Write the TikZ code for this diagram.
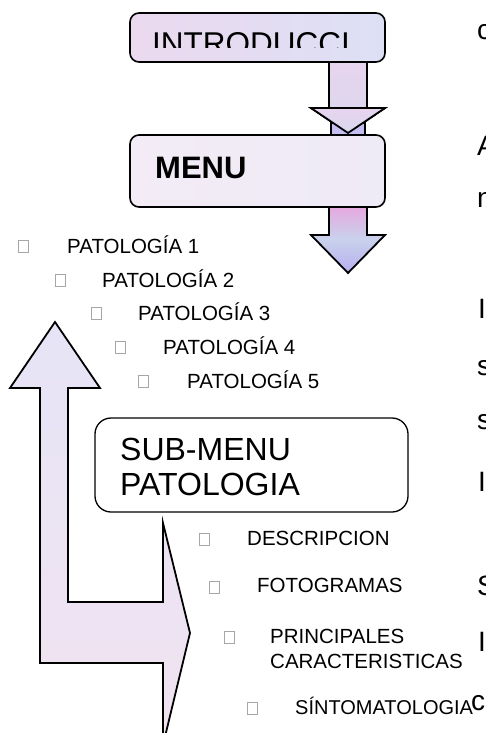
\documentclass[tikz,border=0pt]{standalone}
\usepackage{fontspec}
\setmainfont{Liberation Sans}
\definecolor{introL}{HTML}{EBD9EF}
\definecolor{introR}{HTML}{DDE0F5}
\definecolor{menuL}{HTML}{F3ECF6}
\definecolor{menuR}{HTML}{EEEAF6}
\definecolor{arrAtop}{HTML}{E8D4EE}
\definecolor{arrAbot}{HTML}{D8D8EE}
\definecolor{arrBtop}{HTML}{E7A6DE}
\definecolor{arrBmid}{HTML}{C9D2EC}
\definecolor{arrBbot}{HTML}{B7AEF0}
\definecolor{lTop}{HTML}{E6E4F6}
\definecolor{lBot}{HTML}{F1E3F0}
\begin{document}
\begin{tikzpicture}[x=1pt,y=-1pt,
  frame/.style={draw=black, line width=1.6pt, rounded corners=9pt, inner sep=0pt},
  blockarrow/.style={draw=black, line width=1.8pt, line join=miter},
  chk/.style={draw=gray!70, line width=0.7pt, minimum width=10pt, minimum height=12pt, inner sep=0pt},
  item/.style={anchor=base west, inner sep=0pt, font=\fontsize{20.5}{24}\selectfont},
  edgeletter/.style={anchor=base west, inner sep=0pt, font=\fontsize{28}{30}\selectfont}]
\useasboundingbox (0,0) rectangle (485,733);
\clip (0,0) rectangle (485,733);

% block arrows
\draw[blockarrow, top color=arrAtop, bottom color=arrAbot]
  (329,60) -- (329,108) -- (311,108) -- (348,133) -- (385,108) -- (367,108) -- (367,60) -- cycle;
\draw[blockarrow, line width=1.2pt, fill=arrBbot!80] (331,123) rectangle (365,136);
\draw[blockarrow, top color=arrAtop, bottom color=arrAbot]
  (311,108) -- (348,133) -- (385,108) -- cycle;
\draw[blockarrow, top color=arrBtop, bottom color=arrBbot, middle color=arrBmid]
  (329,205) -- (329,235) -- (311,235) -- (348,273) -- (385,235) -- (367,235) -- (367,205) -- cycle;
\draw[blockarrow, top color=lTop, bottom color=lBot]
  (55,322) -- (100,388) -- (68,388) -- (68,602) -- (163,602) -- (163,523) -- (190,633)
  -- (163,745) -- (163,663) -- (40,663) -- (40,388) -- (10,388) -- cycle;

% boxes
\node[frame, left color=introL, right color=introR, minimum width=255pt, minimum height=49pt] (intro) at (257.5,37.5) {};
\begin{scope}
  \clip (140,20) rectangle (380,48);
  \node[anchor=base west, inner sep=0pt, font=\fontsize{31.5}{34}\selectfont] (introtxt) at (152,54.5) {INTRODUCCI};
\end{scope}
\node[frame, left color=menuL, right color=menuR, minimum width=255pt, minimum height=72pt] (menu) at (257.5,171) {};
\node[anchor=base west, inner sep=0pt, font=\fontsize{31}{34}\selectfont\bfseries] (menutxt) at (155,178) {MENU};

\node[draw=black, line width=1.3pt, rounded corners=16pt, fill=white, minimum width=313pt, minimum height=94pt, inner sep=0pt] (sub) at (251.5,465) {};
\node[anchor=base west, inner sep=0pt, font=\fontsize{32}{35}\selectfont] (subA) at (120,460) {SUB-MENU};
\node[anchor=base west, inner sep=0pt, font=\fontsize{32}{35}\selectfont] (subB) at (120,495) {PATOLOGIA};

% pathology list
\node[chk] (c1) at (23,246) {};  \node[item] (p1) at (67,253) {PATOLOGÍA 1};
\node[chk] (c2) at (60,280) {};  \node[item] (p2) at (102,287) {PATOLOGÍA 2};
\node[chk] (c3) at (96,313) {};  \node[item] (p3) at (138,320) {PATOLOGÍA 3};
\node[chk] (c4) at (120,347) {}; \node[item] (p4) at (163,354) {PATOLOGÍA 4};
\node[chk] (c5) at (143,381) {}; \node[item] (p5) at (187,388) {PATOLOGÍA 5};

% sub-menu list
\node[chk] (d1) at (204,539) {}; \node[item] (s1) at (247,545) {DESCRIPCION};
\node[chk] (d2) at (214,587) {}; \node[item] (s2) at (257,592) {FOTOGRAMAS};
\node[chk] (d3) at (229,637) {}; \node[item] (s3a) at (270,643) {PRINCIPALES};
\node[item] (s3b) at (270,668) {CARACTERISTICAS};
\node[chk] (d4) at (252,708) {}; \node[item, font=\fontsize{20}{24}\selectfont] (s4) at (295,714) {SÍNTOMATOLOGIA};

% letters cut by the right edge
\node[edgeletter] (r1) at (477,40) {c};
\node[edgeletter] (r2) at (477,155) {A};
\node[edgeletter] (r3) at (477,207) {n};
\node[edgeletter] (r4) at (478,318) {I};
\node[edgeletter] (r5) at (477,375) {s};
\node[edgeletter] (r6) at (477,429) {s};
\node[edgeletter] (r7) at (478,491) {I};
\node[edgeletter] (r8) at (477,595) {S};
\node[edgeletter] (r9) at (478,651) {I};
\node[edgeletter] (r10) at (471,710) {c};
\end{tikzpicture}
\end{document}
